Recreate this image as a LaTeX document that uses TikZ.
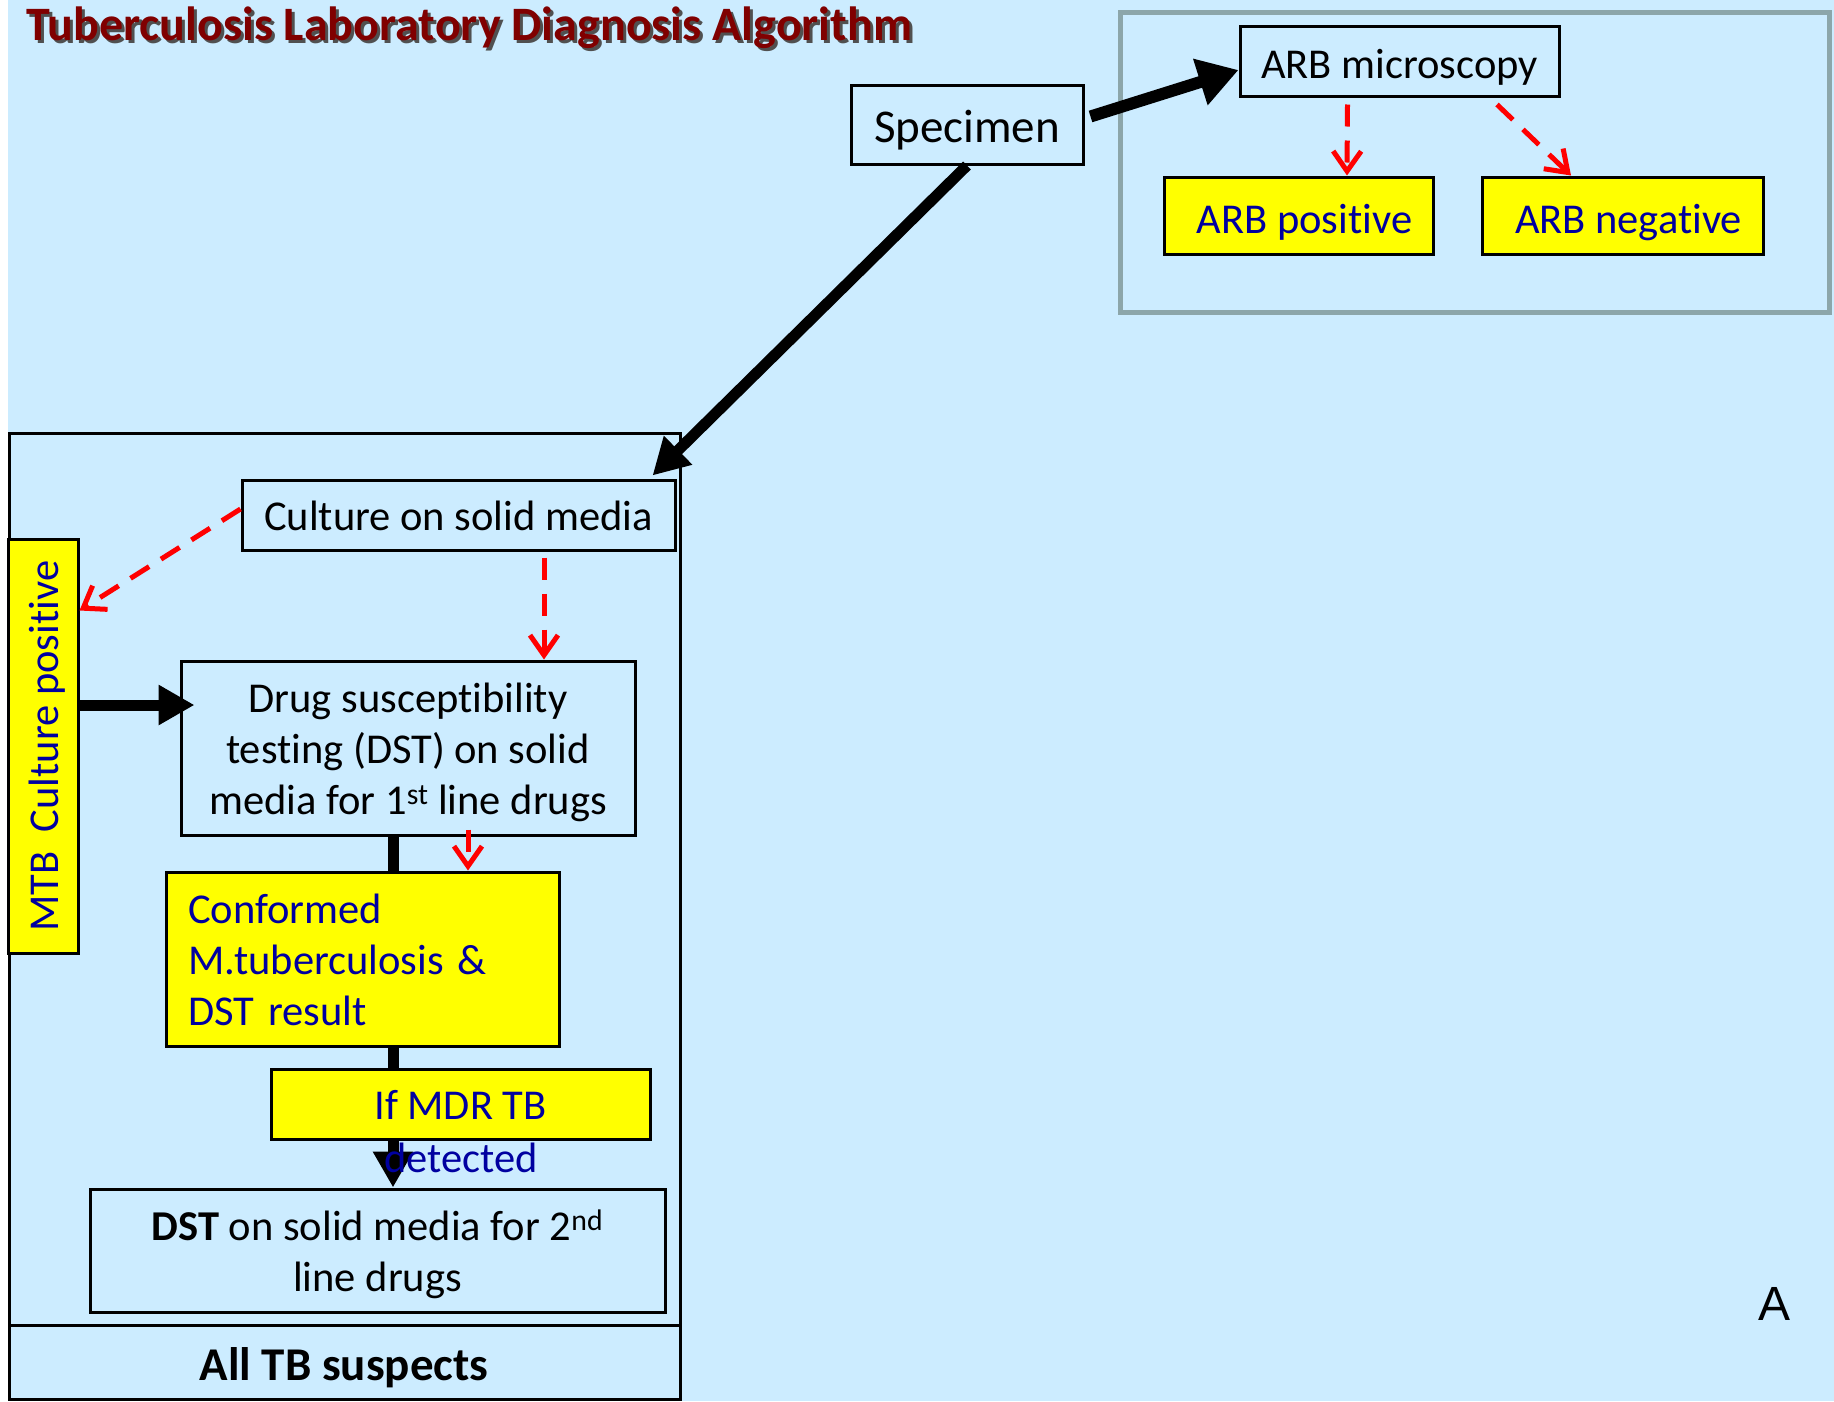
\documentclass[tikz,border=0pt]{standalone}
\usepackage{fontspec}
\setmainfont{Carlito}[Ligatures=NoCommon]
\newfontfamily\arialfont{Liberation Sans}
\usetikzlibrary{arrows.meta,calc}
\definecolor{bgblue}{RGB}{204,236,255}
\definecolor{ylw}{RGB}{255,255,0}
\definecolor{txtblue}{RGB}{0,0,160}
\definecolor{boxgray}{RGB}{140,166,170}
\definecolor{ttlred}{RGB}{128,0,0}
\definecolor{shadowgray}{RGB}{80,80,80}
\newcommand\tstr{\rule{0pt}{42pt}}
\newcommand\tstrhi{\rule{0pt}{47pt}}
\newcommand\bstr{\rule[-12pt]{0pt}{12pt}}
\begin{document}
\begin{tikzpicture}[x=1pt,y=-1pt,
  every node/.style={font=\fontsize{42.5}{51}\selectfont, inner sep=0pt},
  plainbox/.style={draw=black, line width=3pt, fill=bgblue, align=center},
  ylwbox/.style={draw=black, line width=3pt, fill=ylw, text=txtblue, align=center},
  thickarrow/.style={line width=11pt, -{Triangle[length=36pt,width=38pt]}},
  bigarrow/.style={line width=12pt, -{Triangle[length=40pt,width=46pt]}},
  thickline/.style={line width=11pt},
  reddash/.style={draw=red, line width=5pt, dash pattern=on 22pt off 14pt, -{Straight Barb[length=20pt,width=28pt]}},
  ttlfont/.style={font=\fontsize{48}{52}\selectfont\bfseries},
]
\useasboundingbox (0,0) rectangle (1834,1401);
\fill[white] (0,0) rectangle (1834,1401);
\fill[bgblue] (8,0) rectangle (1834,1401);

% title
\node[anchor=base west, text=shadowgray, ttlfont] at (29,43) {Tuberculosis Laboratory Diagnosis Algorithm};
\node[anchor=base west, text=ttlred, ttlfont] (title) at (26,40) {Tuberculosis Laboratory Diagnosis Algorithm};

% gray container
\draw[boxgray, line width=5pt] (1120,12.5) rectangle (1829.5,312);

% left panel
\draw[line width=3pt] (9.5,433) rectangle (680,1399.5);
\draw[line width=3pt] (9.5,1325) -- (680,1325);
\node[anchor=base, font=\fontsize{47}{56}\selectfont\bfseries] (alltb) at (344,1380) {All TB suspects};

% nodes
\node[plainbox, minimum width=232pt, minimum height=79pt, font=\fontsize{47}{56}\selectfont] (spec) at (967,124.5) {\tstrhi Specimen\bstr};
\node[plainbox, minimum width=319pt, minimum height=70pt] (arbm) at (1399.5,61) {\tstrhi ARB microscopy\bstr};
\node[ylwbox, minimum width=269pt, minimum height=77pt] (arbp) at (1298.5,215.5) {\hspace{12pt}\tstrhi ARB positive\bstr};
\node[ylwbox, minimum width=281pt, minimum height=77pt] (arbn) at (1622.5,215.5) {\hspace{12pt}\tstrhi ARB negative\bstr};

\node[plainbox, minimum width=433pt, minimum height=70pt] (cult) at (458.5,515) {\tstr Culture on solid media\bstr};
\node[ylwbox, minimum width=70pt, minimum height=414pt] (mtb) at (43,746) {};
\node[rotate=90, text=txtblue] (mtbtext) at (47,746) {MTB\ \ Culture positive};
\node[plainbox, minimum width=454pt, minimum height=174pt] (dst) at (408,748) {\tstr Drug susceptibility\\testing (DST) on solid\\media for 1\textsuperscript{st} line drugs\bstr};
\node[ylwbox, minimum width=393pt, minimum height=174pt, text width=349pt, align=left] (conf) at (362.5,959) {\tstr Conformed\\M.tuberculosis \&\\DST result\bstr};
\node[ylwbox, minimum width=379pt, minimum height=70pt] (mdr) at (460.5,1104) {\tstr If MDR TB\bstr};
\node[plainbox, minimum width=575pt, minimum height=123pt] (dst2) at (377.5,1250.5) {\tstr\textbf{DST} on solid media for 2\textsuperscript{nd}\\line drugs\bstr};

\node[font=\arialfont\fontsize{48}{50}\selectfont] (lblA) at (1774,1304) {A};

% connectors
\draw[bigarrow] ([xshift=6pt,yshift=8pt]spec.east) -- ([yshift=-9pt]arbm.west);
\draw[thickarrow] (spec.south) -- ([xshift=-24pt,yshift=3pt]cult.north east);
\draw[reddash] ([xshift=-52pt,yshift=-7pt]arbm.south) -- ([xshift=48.5pt]arbp.north);
\draw[reddash] ([xshift=97.5pt,yshift=-7pt]arbm.south) -- ([xshift=-51.5pt]arbn.north);
\draw[reddash] ([yshift=6pt]cult.west) -- ([yshift=-73pt]mtb.north east);
\draw[reddash] ([xshift=85.5pt,yshift=-6pt]cult.south) -- ([xshift=136pt]dst.north);
\draw[thickarrow] ([yshift=41pt]mtb.east) -- ([xshift=15pt,yshift=43pt]dst.west);
\draw[thickline] ([xshift=-15pt]dst.south) -- ([xshift=30.5pt]conf.north);
\draw[reddash] ([xshift=60pt,yshift=7pt]dst.south) -- ([xshift=105.5pt]conf.north);
\draw[thickline] ([xshift=30.5pt]conf.south) -- ([xshift=-67.5pt]mdr.north);
\draw[thickarrow] ([xshift=-67.5pt]mdr.south) -- ([xshift=15.5pt]dst2.north);

\node[anchor=base, text=txtblue] (detected) at (461,1172) {detected};
\end{tikzpicture}
\end{document}
